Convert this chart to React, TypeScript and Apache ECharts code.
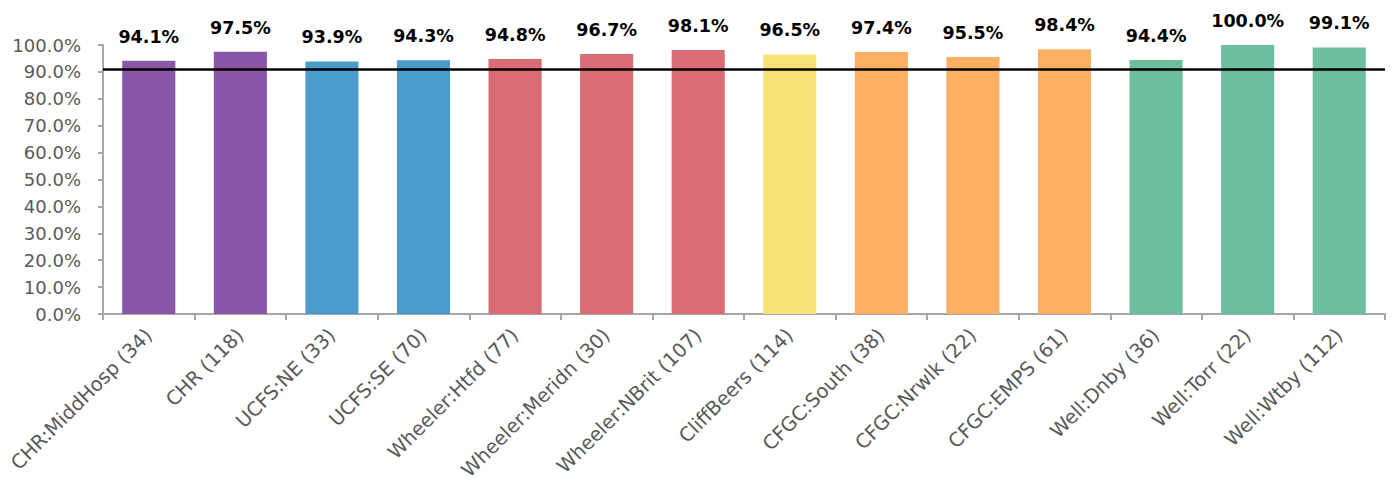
import React, { useEffect, useRef } from "react";
import * as echarts from "echarts";

const categories = [
  "CHR:MiddHosp (34)",
  "CHR (118)",
  "UCFS:NE (33)",
  "UCFS:SE (70)",
  "Wheeler:Htfd (77)",
  "Wheeler:Meridn (30)",
  "Wheeler:NBrit (107)",
  "CliffBeers (114)",
  "CFGC:South (38)",
  "CFGC:Nrwlk (22)",
  "CFGC:EMPS (61)",
  "Well:Dnby (36)",
  "Well:Torr (22)",
  "Well:Wtby (112)",
];
const values = [94.1, 97.5, 93.9, 94.3, 94.8, 96.7, 98.1, 96.5, 97.4, 95.5, 98.4, 94.4, 100.0, 99.1];
const barColors = [
  "#8a56a7", "#8a56a7",
  "#4b9bcb", "#4b9bcb",
  "#d96c74", "#d96c74", "#d96c74",
  "#f8e176",
  "#fdb064", "#fdb064", "#fdb064",
  "#6bbf9c", "#6bbf9c", "#6bbf9c",
];
const target = 91;
const yTicks = { min: 0, max: 100, interval: 10 };

export default function App() {
  const ref = useRef<HTMLDivElement>(null);
  useEffect(() => {
    document.body.style.margin = "0";
    const chart = echarts.init(ref.current!, null, { renderer: "svg" });
    const font = "'DejaVu Sans', 'Liberation Sans', Arial, sans-serif";
    chart.setOption({
      animation: false,
      backgroundColor: "#ffffff",
      grid: { left: 103, right: 10, top: 45, bottom: 171, containLabel: false },
      xAxis: {
        type: "category",
        data: categories,
        boundaryGap: true,
        axisLine: { lineStyle: { color: "#a6a6a6", width: 2 } },
        axisTick: { show: true, alignWithLabel: false, length: 6, lineStyle: { color: "#a6a6a6", width: 2 } },
        axisLabel: {
          rotate: 45,
          interval: 0,
          color: "#595959",
          fontFamily: font,
          fontSize: 19.5,
          margin: 18,
        },
      },
      yAxis: {
        type: "value",
        min: yTicks.min,
        max: yTicks.max,
        interval: yTicks.interval,
        axisLine: { show: true, lineStyle: { color: "#a6a6a6", width: 2 } },
        axisTick: { show: true, length: 5, lineStyle: { color: "#a6a6a6", width: 2 } },
        splitLine: { show: false },
        axisLabel: {
          color: "#595959",
          fontFamily: font,
          fontSize: 18,
          margin: 22,
          formatter: (v: number) => v.toFixed(1) + "%",
        },
      },
      series: [
        {
          type: "bar",
          barWidth: "58%",
          data: values.map((v, i) => ({ value: v, itemStyle: { color: barColors[i] } })),
          label: {
            show: true,
            position: "top",
            distance: 15,
            color: "#000000",
            fontWeight: "bold",
            fontFamily: font,
            fontSize: 17.5,
            formatter: (p: any) => p.value.toFixed(1) + "%",
          },
          markLine: {
            silent: true,
            symbol: "none",
            label: { show: false },
            lineStyle: { color: "#000000", width: 2.5, type: "solid" },
            data: [{ yAxis: target }],
          },
        },
      ],
    });
    return () => chart.dispose();
  }, []);
  return <div ref={ref} style={{ width: 1395, height: 485 }} />;
}
